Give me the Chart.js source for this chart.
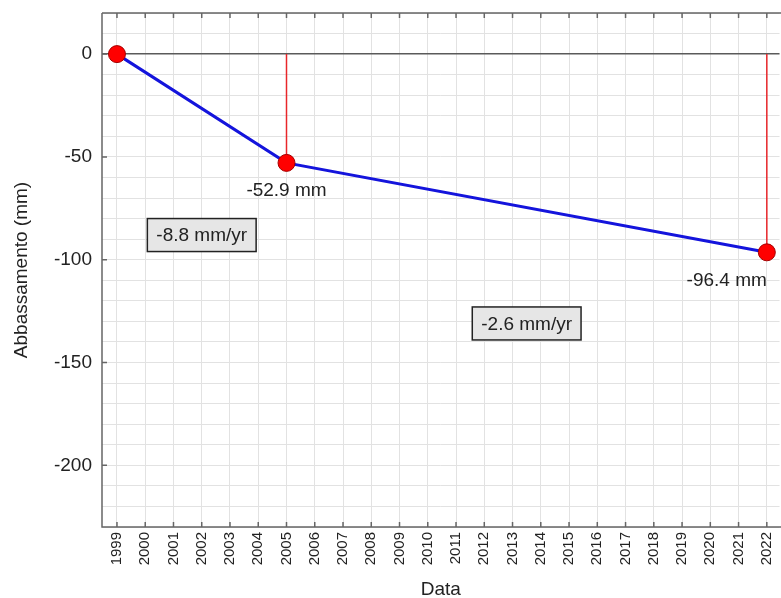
<!DOCTYPE html>
<html lang="it">
<head>
    <meta charset="UTF-8">
    <title>Abbassamento</title>
    <script src="https://cdn.jsdelivr.net/npm/chart.js"></script>
    <style>
        * { margin: 0; padding: 0; box-sizing: border-box; }
        body { background: #fff; width: 781px; height: 598px; overflow: hidden; }
        canvas { display: block; }
    </style>
</head>
<body>
<canvas id="chart" width="790" height="598"></canvas>
<script>
// dati
const years = [1999, 2005, 2022];
const subsidence = [0, -52.9, -96.4];
const pointLabels = ['', '-52.9 mm', '-96.4 mm'];
const rateLabels = ['-8.8 mm/yr', '-2.6 mm/yr'];
const rateLevels = [-88, -131];
const yearTicks = [1999, 2000, 2001, 2002, 2003, 2004, 2005, 2006, 2007, 2008, 2009, 2010,
    2011, 2012, 2013, 2014, 2015, 2016, 2017, 2018, 2019, 2020, 2021, 2022];
const yMajor = [0, -50, -100, -150, -200];

const FONT = '"Liberation Sans", Arial, sans-serif';
const AXIS = '#666';

// linee verticali rosse dallo zero ai punti
const stems = years.slice(1).map((yr, i) => ({
    type: 'line',
    data: [{ x: yr, y: 0 }, { x: yr, y: subsidence[i + 1] }],
    borderColor: '#e8262a',
    borderWidth: 1.5,
    pointRadius: 0,
    order: 2
}));

const overlay = {
    id: 'overlay',
    afterDatasetsDraw(chart) {
        const ctx = chart.ctx;
        const ca = chart.chartArea;
        const xs = chart.scales.x, ys = chart.scales.y;
        ctx.save();
        // cornice
        ctx.strokeStyle = AXIS;
        ctx.lineWidth = 1.5;
        ctx.beginPath();
        ctx.moveTo(ca.left, ca.top); ctx.lineTo(ca.right + 2, ca.top);
        ctx.moveTo(ca.left, ca.top); ctx.lineTo(ca.left, ca.bottom);
        ctx.lineTo(ca.right + 2, ca.bottom);
        ctx.stroke();
        // tacche interne
        ctx.beginPath();
        yearTicks.forEach(v => {
            const px = xs.getPixelForValue(v);
            ctx.moveTo(px, ca.top); ctx.lineTo(px, ca.top + 5);
            ctx.moveTo(px, ca.bottom); ctx.lineTo(px, ca.bottom - 5);
        });
        yMajor.forEach(v => {
            const py = ys.getPixelForValue(v);
            ctx.moveTo(ca.left, py); ctx.lineTo(ca.left + 5, py);
        });
        ctx.stroke();

        // etichette dei punti
        ctx.fillStyle = '#222';
        ctx.font = '19px ' + FONT;
        ctx.textBaseline = 'middle';
        years.forEach((yr, i) => {
            if (!pointLabels[i]) return;
            const px = xs.getPixelForValue(yr);
            const py = ys.getPixelForValue(subsidence[i]);
            const last = i === years.length - 1;
            ctx.textAlign = last ? 'right' : 'center';
            ctx.fillText(pointLabels[i], px, py + 28);
        });

        // riquadri delle velocità
        rateLabels.forEach((txt, i) => {
            const mid = (years[i] + years[i + 1]) / 2;
            const cx = xs.getPixelForValue(mid);
            const cy = ys.getPixelForValue(rateLevels[i]);
            const w = ctx.measureText(txt).width + 18;
            const h = 33;
            ctx.fillStyle = '#e6e6e6';
            ctx.fillRect(cx - w / 2, cy - h / 2, w, h);
            ctx.strokeStyle = '#222';
            ctx.lineWidth = 1.5;
            ctx.strokeRect(cx - w / 2, cy - h / 2, w, h);
            ctx.fillStyle = '#222';
            ctx.textAlign = 'center';
            ctx.fillText(txt, cx, cy + 1);
        });
        ctx.restore();
    }
};

new Chart(document.getElementById('chart'), {
    type: 'line',
    data: {
        datasets: [
            {
                data: years.map((yr, i) => ({ x: yr, y: subsidence[i] })),
                borderColor: '#1414dc',
                borderWidth: 3,
                pointRadius: 8.5,
                pointBackgroundColor: '#ff0000',
                pointBorderColor: '#a40000',
                pointBorderWidth: 1,
                order: 1
            },
            ...stems
        ]
    },
    options: {
        responsive: false,
        animation: false,
        devicePixelRatio: 1,
        layout: { padding: { top: 13, right: 0, left: 0, bottom: -3 } },
        plugins: { legend: { display: false }, tooltip: { enabled: false } },
        scales: {
            x: {
                type: 'linear',
                min: 1998.47,
                max: 2022.45,
                afterBuildTicks: s => { s.ticks = yearTicks.map(v => ({ value: v })); },
                afterFit: s => { s.height = 74; },
                grid: { color: '#e2e2e2', lineWidth: 1, drawTicks: false },
                border: { display: false },
                ticks: {
                    autoSkip: false,
                    minRotation: 90, maxRotation: 90, padding: 5,
                    color: '#222',
                    font: { family: FONT, size: 15 },
                    callback: v => String(v)
                },
                title: {
                    display: true, text: 'Data', color: '#222',
                    font: { family: FONT, size: 19 },
                    padding: { top: 0, bottom: 0 }
                }
            },
            y: {
                min: -230,
                max: 20,
                afterBuildTicks: s => {
                    const t = [];
                    for (let v = -230; v <= 20; v += 10) t.push({ value: v });
                    s.ticks = t;
                },
                afterFit: s => { s.width = 102; s.paddingTop = 0; s.paddingBottom = 0; },
                grid: {
                    drawTicks: false,
                    color: c => c.tick && c.tick.value === 0 ? '#5a5a5a' : '#e2e2e2',
                    lineWidth: c => c.tick && c.tick.value === 0 ? 1.5 : 1
                },
                border: { display: false },
                ticks: {
                    autoSkip: false,
                    padding: 10,
                    color: '#222',
                    font: { family: FONT, size: 19 },
                    callback: v => (yMajor.includes(v) ? String(v) : '')
                },
                title: {
                    display: true, text: 'Abbassamento (mm)', color: '#222',
                    font: { family: FONT, size: 19 },
                    padding: { top: 10, bottom: 0 }
                }
            }
        }
    },
    plugins: [overlay]
});
</script>
</body>
</html>
